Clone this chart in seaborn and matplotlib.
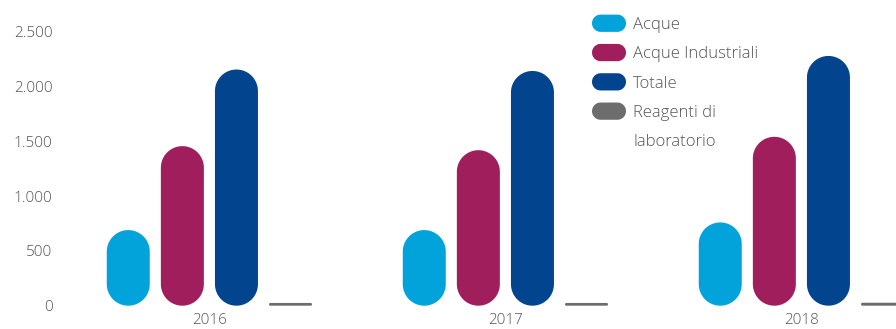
import numpy as np
import pandas as pd
import seaborn as sns
import matplotlib
matplotlib.use("Agg")
import matplotlib.pyplot as plt
from matplotlib.patches import Patch, Polygon
from matplotlib.legend_handler import HandlerBase
from matplotlib.ticker import FuncFormatter

# --- data -------------------------------------------------------------
years = ["2016", "2017", "2018"]
categories = ["Acque", "Acque Industriali", "Totale", "Reagenti di laboratorio"]
acque = [690, 690, 760]
acque_industriali = [1456, 1419, 1541]
totale = [2155, 2142, 2279]
reagenti = [25, 25, 27]
y_ticks = [0, 500, 1000, 1500, 2000, 2500]

colors = ["#02a3db", "#a01e5c", "#03448f", "#6d6d6d"]
text_color = "#555555"

df = pd.DataFrame({
    "anno": years * 4,
    "categoria": np.repeat(categories, len(years)),
    "valore": acque + acque_industriali + totale + reagenti,
})

# --- figure -----------------------------------------------------------
W, H, DPI = 896, 329, 100
sns.set_theme(style="white")
plt.rcParams["font.family"] = ["Open Sans", "DejaVu Sans"]
plt.rcParams["font.weight"] = "light"

fig = plt.figure(figsize=(W / DPI, H / DPI), dpi=DPI)
left_px, right_px, bottom_px, top_px = 62, 896, 305.7, 9.8
ax = fig.add_axes([left_px / W, (H - bottom_px) / H,
                   (right_px - left_px) / W, (bottom_px - top_px) / H])

sns.barplot(data=df, x="anno", y="valore", hue="categoria",
            hue_order=categories, palette=colors, saturation=1,
            width=0.731, gap=0.205, legend=False, ax=ax)

ax.set_xlim(-0.498, 2.3196)
ax.set_ylim(0, 2700)


def pill_vertices(x, y, w, h, aspect=1.0, n=40):
    """Outline of a rectangle whose short ends are semicircles."""
    rx = min(w / 2, h / aspect / 2)
    ry = rx * aspect
    xl, xr = x + rx, x + w - rx
    yb, yt = y + ry, y + h - ry
    t_top = np.linspace(0, np.pi, n)
    t_bot = np.linspace(np.pi, 2 * np.pi, n)
    k = n // 2
    top_r = np.column_stack([xr + rx * np.cos(t_top[:k]), yt + ry * np.sin(t_top[:k])])
    top_l = np.column_stack([xl + rx * np.cos(t_top[k:]), yt + ry * np.sin(t_top[k:])])
    bot_l = np.column_stack([xl + rx * np.cos(t_bot[:k]), yb + ry * np.sin(t_bot[:k])])
    bot_r = np.column_stack([xr + rx * np.cos(t_bot[k:]), yb + ry * np.sin(t_bot[k:])])
    return np.vstack([top_r, top_l, bot_l, bot_r])


# turn each rectangular bar into a pill with semicircular ends
p0 = ax.transData.transform((0, 0))
p1 = ax.transData.transform((1, 1))
data_aspect = (p1[0] - p0[0]) / (p1[1] - p0[1])   # data-y units per data-x unit

for bar in list(ax.patches):
    verts = pill_vertices(bar.get_x(), bar.get_y(), bar.get_width(),
                          bar.get_height(), aspect=data_aspect)
    pill = Polygon(verts, closed=True, facecolor=bar.get_facecolor(),
                   edgecolor="none", clip_on=False)
    bar.remove()
    ax.add_patch(pill)

# axes styling
for s in ax.spines.values():
    s.set_visible(False)
ax.set_xlabel("")
ax.set_ylabel("")
ax.set_yticks(y_ticks)
ax.yaxis.set_major_formatter(FuncFormatter(lambda v, _: f"{int(v):,}".replace(",", ".")))
ax.tick_params(axis="y", length=0, pad=6.8, labelsize=11, labelcolor=text_color)
ax.tick_params(axis="x", length=0, pad=5.5, labelsize=11, labelcolor=text_color)
ax.grid(False)


class PillHandler(HandlerBase):
    def create_artists(self, legend, orig_handle, xdescent, ydescent,
                       width, height, fontsize, trans):
        verts = pill_vertices(-xdescent, -ydescent - 1, width, height + 2)
        p = Polygon(verts, closed=True, facecolor=orig_handle.get_facecolor(),
                    edgecolor="none", transform=trans)
        p.set_visible(orig_handle.get_visible())
        return [p]


handles = [Patch(facecolor=c) for c in colors]
blank = Patch(facecolor="none")
blank.set_visible(False)
handles.append(blank)
labels = ["Acque", "Acque Industriali", "Totale", "Reagenti di", "laboratorio"]

leg = fig.legend(handles, labels, loc="upper left",
                 bbox_to_anchor=(592 / W, 1 - 16 / H),
                 frameon=False, fontsize=12, borderpad=0, borderaxespad=0,
                 handlelength=2.04, handleheight=0.96, handletextpad=0.42,
                 labelspacing=0.74,
                 handler_map={Patch: PillHandler()})
for t in leg.get_texts():
    t.set_color(text_color)

fig.savefig("out.png", dpi=DPI, facecolor="white")
